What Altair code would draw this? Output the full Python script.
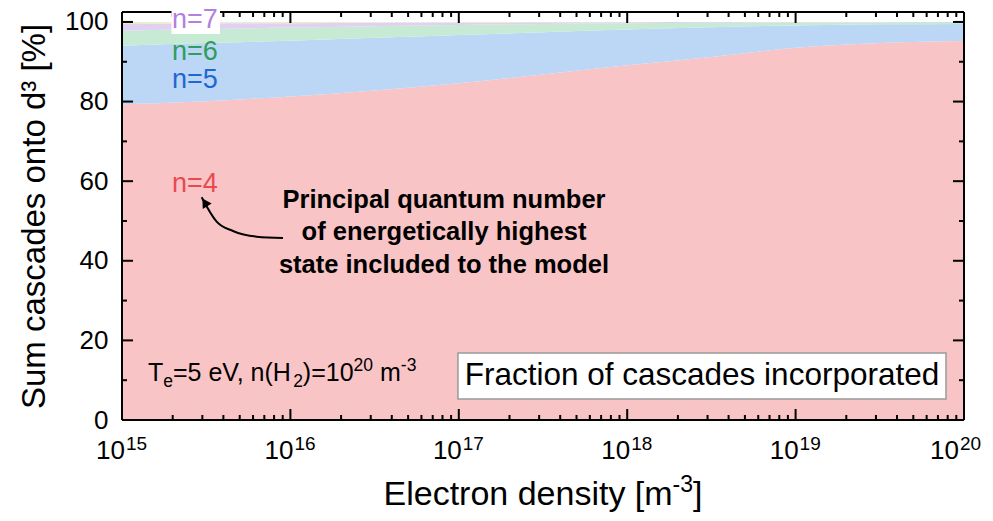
import altair as alt
import pandas as pd

# ---------------- data ----------------
DENSITY_EXP = [15, 15.5, 16, 16.5, 17, 17.5, 18, 18.5, 19, 19.5, 20]
BANDS = ["n=4", "n=5", "n=6", "n=7", "n=8", "n=9"]
N4_TOP = [79.3, 80.1, 81.3, 82.8, 84.6, 86.8, 89.1, 91.2, 93.5, 94.7, 95.2]
N5_TOP = [94.0, 94.7, 95.3, 96.0, 96.7, 97.4, 98.1, 98.7, 99.1, 99.4, 99.5]
N6_TOP = [97.8, 98.2, 98.6, 98.95, 99.25, 99.5, 99.7, 99.8, 99.9, 99.95, 100.0]
N7_TOP = [99.5, 99.6, 99.7, 99.8, 99.85, 99.9, 99.95, 99.97, 99.98, 99.99, 100.0]
N8_TOP = [99.8, 99.85, 99.9, 99.92, 99.95, 99.97, 99.98, 99.99, 100.0, 100.0, 100.0]
N9_TOP = [100.0] * 11
BAND_COLORS = ["#f9c4c5", "#bcd6f5", "#c6ead4", "#e1d0f2", "#f7e8a8", "#c6eff0"]

LABEL_TEXT = ["n=7", "n=6", "n=5", "n=4"]
LABEL_Y = [98.5, 90.45, 83.4, 57.3]
LABEL_COLORS = ["#b47fe0", "#2e9e5b", "#1f67d2", "#e84a4f"]
LABEL_X_EXP = 15.297

X_MAJOR_EXP = [15, 16, 17, 18, 19, 20]
X_EXP_TEXT = ["15", "16", "17", "18", "19", "20"]
X_MINOR_MULT = [2, 3, 4, 5, 6, 7, 8, 9]
Y_MAJOR = [0, 20, 40, 60, 80, 100]
Y_MINOR = [10, 30, 50, 70, 90]

ARROW_X_EXP = [15.473, 15.562, 15.659, 15.800, 15.956]
ARROW_Y = [55.95, 49.82, 47.49, 46.06, 45.73]

WIDTH, HEIGHT = 842, 408
Y_MAX = 102.5
FONT = "Liberation Sans"

# Arial / Liberation Sans advance widths (per 1000 em) for laying out rich text pieces
ADV = {"E": 667, "l": 222, "e": 556, "c": 500, "t": 278, "r": 333, "o": 556, "n": 556,
       " ": 278, "d": 556, "s": 500, "i": 222, "y": 500, "[": 278, "m": 833, "]": 278,
       "-": 333, "3": 556, "T": 611, "=": 584, "5": 556, "V": 667, ",": 278, "(": 333,
       "H": 722, "2": 556, ")": 333, "1": 556, "0": 556}


def tw(s, size):
    return sum(ADV.get(ch, 556) for ch in s) * size / 1000.0


# ---------------- tables ----------------
tops = [N4_TOP, N5_TOP, N6_TOP, N7_TOP, N8_TOP, N9_TOP]
rows = []
for bi, band in enumerate(BANDS):
    for i, e in enumerate(DENSITY_EXP):
        lo = 0.0 if bi == 0 else tops[bi - 1][i]
        rows.append({"x": 10 ** e, "lo": lo, "hi": tops[bi][i], "band": band})
area_df = pd.DataFrame(rows)

xs = alt.Scale(type="log", domain=[1e15, 1e20], nice=False)
ys = alt.Scale(domain=[0, Y_MAX], nice=False, zero=False)

areas = alt.Chart(area_df).mark_area(interpolate="monotone").encode(
    x=alt.X("x:Q", scale=xs,
            axis=alt.Axis(labels=False, ticks=False, domain=False, grid=False, title=None)),
    y=alt.Y("hi:Q", scale=ys, stack=None,
            axis=alt.Axis(values=Y_MAJOR, ticks=False, domain=False, grid=False,
                          labelFontSize=26, labelColor="black", labelPadding=14,
                          title="Sum cascades onto d³ [%]", titleFontSize=33,
                          titleFontWeight="normal", titleColor="black",
                          titlePadding=13)),
    y2="lo:Q",
    color=alt.Color("band:N", scale=alt.Scale(domain=BANDS, range=BAND_COLORS), legend=None),
)

one = pd.DataFrame({"a": [0]})
frame = [
    alt.Chart(one).mark_rule(color="black", strokeWidth=2).encode(
        x=alt.value(0), y=alt.value(0), y2=alt.value(HEIGHT)),
    alt.Chart(one).mark_rule(color="black", strokeWidth=2).encode(
        x=alt.value(WIDTH), y=alt.value(0), y2=alt.value(HEIGHT)),
    alt.Chart(one).mark_rule(color="black", strokeWidth=2).encode(
        y=alt.value(0), x=alt.value(0), x2=alt.value(WIDTH)),
    alt.Chart(one).mark_rule(color="black", strokeWidth=2).encode(
        y=alt.value(HEIGHT), x=alt.value(0), x2=alt.value(WIDTH)),
]

xmaj = pd.DataFrame({"v": [10.0 ** e for e in X_MAJOR_EXP], "t": X_EXP_TEXT})
xmin = pd.DataFrame({"v": [m * 10.0 ** e for e in X_MAJOR_EXP[:-1] for m in X_MINOR_MULT]})
ymaj = pd.DataFrame({"v": Y_MAJOR})
ymin = pd.DataFrame({"v": Y_MINOR})

MAJ, MIN = 11, 5
ticks = []
for df, L in [(xmaj, MAJ), (xmin, MIN)]:
    ticks.append(alt.Chart(df).mark_rule(color="black", strokeWidth=2).encode(
        x=alt.X("v:Q", scale=xs), y=alt.value(HEIGHT), y2=alt.value(HEIGHT - L)))
    ticks.append(alt.Chart(df).mark_rule(color="black", strokeWidth=2).encode(
        x=alt.X("v:Q", scale=xs), y=alt.value(0), y2=alt.value(L)))
for df, L in [(ymaj, MAJ), (ymin, MIN)]:
    ticks.append(alt.Chart(df).mark_rule(color="black", strokeWidth=2).encode(
        y=alt.Y("v:Q", scale=ys), x=alt.value(0), x2=alt.value(L)))
    ticks.append(alt.Chart(df).mark_rule(color="black", strokeWidth=2).encode(
        y=alt.Y("v:Q", scale=ys), x=alt.value(WIDTH), x2=alt.value(WIDTH - L)))

# x tick labels 10^k  (the last one nudged left so it stays inside the page)
xlab_layers = []
for sub, shift in [(xmaj.iloc[:-1], 0), (xmaj.iloc[-1:], -8)]:
    xlab_layers.append(alt.Chart(sub).mark_text(align="right", baseline="alphabetic", fontSize=26,
                                               color="black", dx=3 + shift).encode(
        x=alt.X("v:Q", scale=xs), y=alt.value(HEIGHT + 39), text=alt.value("10")))
    xlab_layers.append(alt.Chart(sub).mark_text(align="left", baseline="alphabetic", fontSize=19,
                                               color="black", dx=4 + shift).encode(
        x=alt.X("v:Q", scale=xs), y=alt.value(HEIGHT + 30), text="t:N"))

# x axis title with superscript, laid out in pieces
XT_BIG, XT_SMALL = 34, 23
xt_pieces = [("Electron density [m", XT_BIG, 0), ("-3", XT_SMALL, -13), ("]", XT_BIG, 0)]
xt_total = sum(tw(s, f) for s, f, _ in xt_pieces)
xt_layers = []
cum = WIDTH / 2 - xt_total / 2
for s, f, dy in xt_pieces:
    xt_layers.append(alt.Chart(one).mark_text(align="left", baseline="alphabetic", fontSize=f,
                                              color="black", dy=dy).encode(
        x=alt.value(cum), y=alt.value(HEIGHT + 85), text=alt.value(s)))
    cum += tw(s, f)

# white box behind n=7
box7 = alt.Chart(pd.DataFrame({"x1": [10 ** 15.294], "x2": [10 ** 15.582],
                               "y1": [97.0], "y2": [104.3]})).mark_rect(color="white").encode(
    x=alt.X("x1:Q", scale=xs), x2="x2:Q", y=alt.Y("y1:Q", scale=ys), y2="y2:Q")

lab_df = pd.DataFrame({"t": LABEL_TEXT, "y": LABEL_Y, "c": LABEL_COLORS,
                       "x": [10 ** LABEL_X_EXP] * len(LABEL_TEXT)})
labels = alt.Chart(lab_df).mark_text(align="left", baseline="alphabetic", fontSize=27).encode(
    x=alt.X("x:Q", scale=xs), y=alt.Y("y:Q", scale=ys), text="t:N",
    color=alt.Color("c:N", scale=None))

ann_df = pd.DataFrame({"x": [10 ** 16.912], "y": [55.3],
                       "t": ["Principal quantum number\nof energetically highest\nstate included to the model"]})
ann = alt.Chart(ann_df).mark_text(align="center", baseline="middle", fontSize=25.5,
                                  fontWeight="bold", lineBreak="\n", lineHeight=32.5,
                                  color="black").encode(
    x=alt.X("x:Q", scale=xs), y=alt.Y("y:Q", scale=ys), text="t:N")

arr_df = pd.DataFrame({"x": [10 ** e for e in ARROW_X_EXP], "y": ARROW_Y,
                       "o": list(range(len(ARROW_Y)))})
arrow = alt.Chart(arr_df).mark_line(color="black", strokeWidth=2, interpolate="monotone").encode(
    x=alt.X("x:Q", scale=xs), y=alt.Y("y:Q", scale=ys), order="o:Q")
head = alt.Chart(pd.DataFrame({"x": [10 ** 15.4917], "y": [54.67]})).mark_point(
    shape="triangle-up", filled=True, color="black", opacity=1, size=110, angle=328).encode(
    x=alt.X("x:Q", scale=xs), y=alt.Y("y:Q", scale=ys))

# T_e annotation with sub/superscripts, laid out in pieces (text, size, dy, gap before)
TE_BIG, TE_SMALL = 25, 17.5
te_pieces = [("T", TE_BIG, 0, 0), ("e", TE_SMALL, 6, 0), ("=5 eV, n(H", TE_BIG, 0, 0),
             ("2", TE_SMALL, 6, 0), (")=10", TE_BIG, 0, 0), ("20", TE_SMALL, -10, 0),
             ("m", TE_BIG, 0, tw(" ", TE_BIG)), ("-3", TE_SMALL, -10, 0)]
te_anchor = pd.DataFrame({"x": [10 ** 15.154], "y": [9.8]})
te_layers = []
cum = 0.0
for s, f, dy, gap in te_pieces:
    cum += gap
    te_layers.append(alt.Chart(te_anchor).mark_text(align="left", baseline="alphabetic",
                                                    fontSize=f, color="black", dx=cum, dy=dy).encode(
        x=alt.X("x:Q", scale=xs), y=alt.Y("y:Q", scale=ys), text=alt.value(s)))
    cum += tw(s, f)

fbox = alt.Chart(pd.DataFrame({"x1": [10 ** 16.995], "x2": [10 ** 19.893],
                               "y1": [5.28], "y2": [16.83]})).mark_rect(
    fill="white", stroke="#9a9a9a", strokeWidth=1.5).encode(
    x=alt.X("x1:Q", scale=xs), x2="x2:Q", y=alt.Y("y1:Q", scale=ys), y2="y2:Q")
ftext = alt.Chart(pd.DataFrame({"x": [10 ** 18.444], "y": [11.06],
                                "t": ["Fraction of cascades incorporated"]})).mark_text(
    align="center", baseline="middle", fontSize=31.5, color="black").encode(
    x=alt.X("x:Q", scale=xs), y=alt.Y("y:Q", scale=ys), text="t:N")

chart = alt.layer(
    areas, *frame, *ticks, *xlab_layers, *xt_layers, box7, labels, ann, arrow, head,
    *te_layers, fbox, ftext
).properties(
    width=WIDTH, height=HEIGHT,
    padding={"left": 114, "top": 4, "right": 21, "bottom": 93},
    autosize=alt.AutoSizeParams(type="none"),
).configure(font=FONT).configure_view(stroke=None)

chart.save("out.html", embed_options={"renderer": "svg", "actions": False})
